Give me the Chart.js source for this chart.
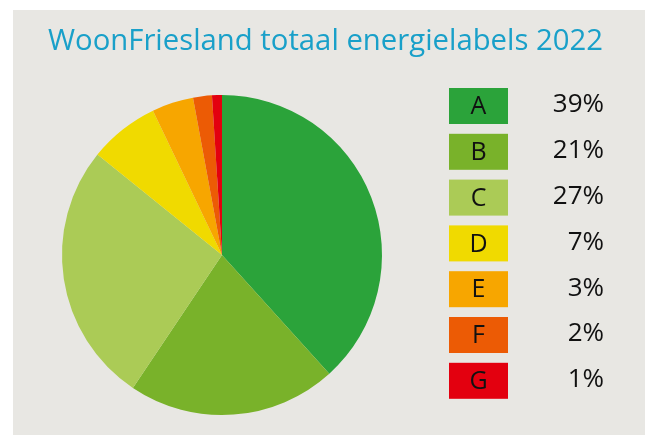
<!DOCTYPE html>
<html>
<head>
<meta charset="utf-8">
<script src="https://cdn.jsdelivr.net/npm/chart.js@4/dist/chart.umd.min.js"></script>
<style>
    html, body { margin: 0; padding: 0; background: #ffffff; }
    #wrap { width: 645px; height: 435px; position: relative; }
</style>
</head>
<body>
<div id="wrap"><canvas id="pieChart" width="645" height="435"></canvas></div>
<script>
const chartTitle = 'WoonFriesland totaal energielabels 2022';
const labels = ['A', 'B', 'C', 'D', 'E', 'F', 'G'];
const shares = [38.3, 21.1, 26.4, 7.1, 4.2, 1.9, 1.0]; // slice sizes as drawn
const percentLabels = ['39%', '21%', '27%', '7%', '3%', '2%', '1%'];
const colors = ['#2ba33a', '#79b22a', '#abcb56', '#f0da00', '#f7a600', '#ec5b05', '#e3000f'];

// background panel, title and the boxed legend on the right
const panelPlugin = {
    id: 'panel',
    beforeDraw(chart) {
        const ctx = chart.ctx;
        ctx.save();
        ctx.fillStyle = '#e8e7e3';
        ctx.fillRect(13, 10, chart.width - 13, chart.height - 10);

        ctx.fillStyle = '#19a0c9';
        ctx.font = '30px "Liberation Sans Narrow", "Open Sans", sans-serif';
        ctx.textBaseline = 'alphabetic';
        ctx.textAlign = 'left';
        const w = ctx.measureText(chartTitle).width;
        const target = 555;
        ctx.translate(48, 50);
        ctx.scale(target / w, 1);
        ctx.fillText(chartTitle, 0, 0);
        ctx.restore();
    },
    afterDraw(chart) {
        const ctx = chart.ctx;
        const data = chart.data;
        ctx.save();
        data.labels.forEach((lab, i) => {
            const y = 88 + i * 45.8;
            ctx.fillStyle = data.datasets[0].backgroundColor[i];
            ctx.fillRect(449, y, 59, 36);
            ctx.fillStyle = '#111111';
            ctx.font = '25px "Open Sans", sans-serif';
            ctx.textAlign = 'center';
            ctx.textBaseline = 'middle';
            ctx.fillText(lab, 478.5, y + 19);
            ctx.font = '26px "Open Sans", sans-serif';
            ctx.textAlign = 'right';
            ctx.fillText(percentLabels[i], 604, y + 17);
        });
        ctx.restore();
    }
};

const ctx = document.getElementById('pieChart').getContext('2d');
new Chart(ctx, {
    type: 'pie',
    data: {
        labels: labels,
        datasets: [{
            data: shares,
            backgroundColor: colors,
            borderWidth: 0
        }]
    },
    options: {
        responsive: false,
        animation: false,
        layout: { padding: { left: 62, right: 263, top: 95, bottom: 20 } },
        plugins: {
            legend: { display: false },
            title: { display: false },
            tooltip: { enabled: false }
        }
    },
    plugins: [panelPlugin]
});
</script>
</body>
</html>
